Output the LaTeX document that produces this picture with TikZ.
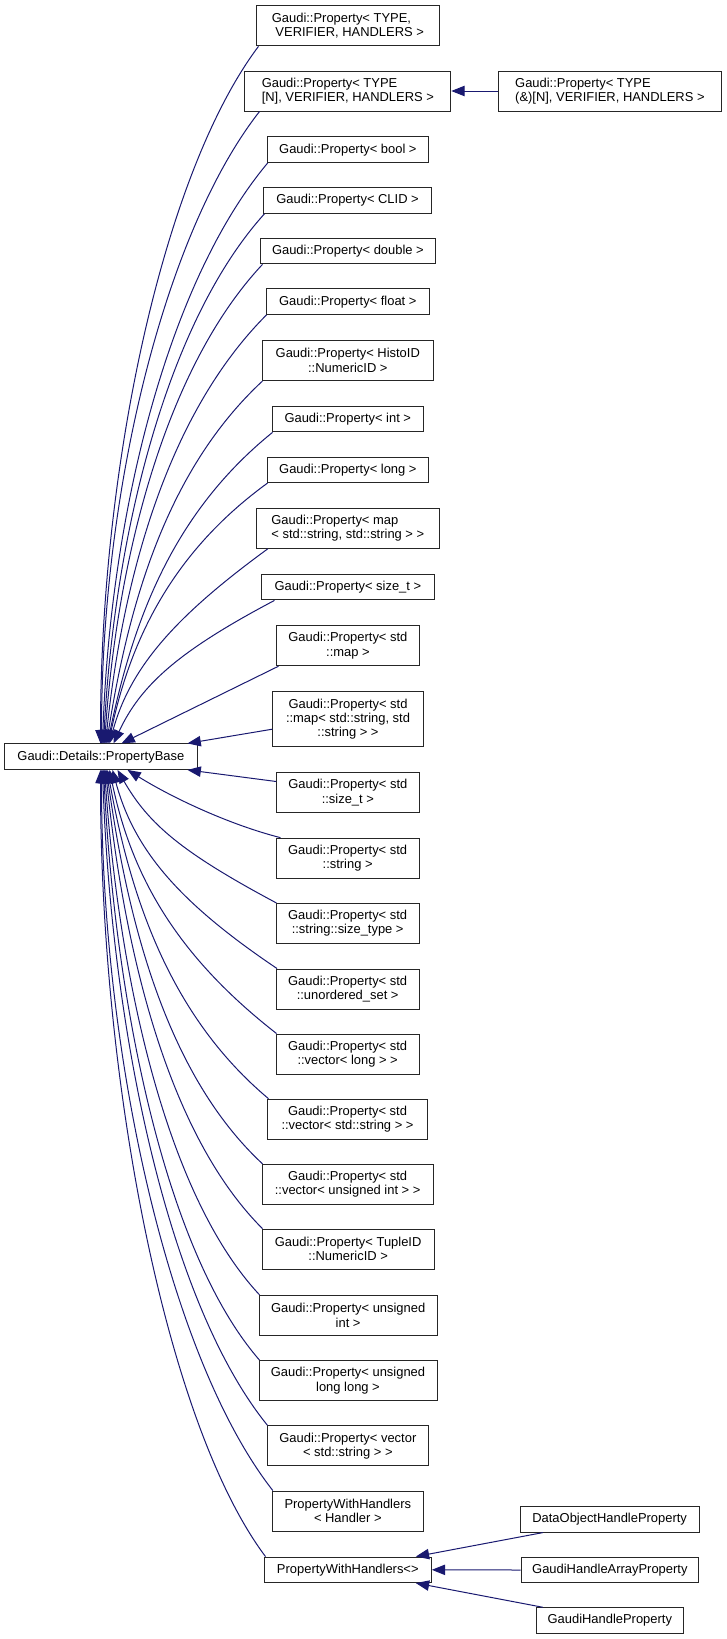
\documentclass[tikz,border=0pt]{standalone}
\usepackage{fontspec}
\setmainfont{Liberation Sans}
\usetikzlibrary{arrows.meta,calc}
\definecolor{edgeblue}{RGB}{25,25,112}
\begin{document}
\begin{tikzpicture}[x=0.75pt,y=0.75pt,
  box/.style={draw=black!85, line width=0.75pt, fill=white, inner sep=0pt,
    font=\fontsize{9.7pt}{10.7pt}\selectfont, align=center},
  bw/.style={minimum width=#1*0.75pt},
  bh/.style={minimum height=#1*0.75pt},
  inh/.style={draw=edgeblue, line width=0.75pt, -{Triangle[length=10pt,width=7.8pt]}}]
\useasboundingbox (0,0) rectangle (727,-1639);

% upper column
\node[box,bw=182.6,bh=40,align=left] (n1) at (347.9,-25.85) {Gaudi::Property< TYPE,\\\hspace*{2.7pt}VERIFIER, HANDLERS >};
\node[box,bw=205.9,bh=40,align=left] (n2) at (347.85,-91) {Gaudi::Property< TYPE\\{}[N], VERIFIER, HANDLERS >};
\node[box,bw=222.6,bh=40,align=left] (n2b) at (609.9,-91) {Gaudi::Property< TYPE\\{}(\&)[N], VERIFIER, HANDLERS >};
\node[box,bw=161.4,bh=25.5] (bool) at (347.9,-149.7) {Gaudi::Property< bool >};
\node[box,bw=168.4,bh=25.5] (clid) at (347.6,-200.5) {Gaudi::Property< CLID >};
\node[box,bw=174.8,bh=25.5] (dbl) at (347.9,-251.15) {Gaudi::Property< double >};
\node[box,bw=163,bh=25.5] (flt) at (347.8,-301.65) {Gaudi::Property< float >};
\node[box,bw=171,bh=40] (histo) at (347.8,-360.5) {Gaudi::Property< HistoID\\::NumericID >};
\node[box,bw=151,bh=25.5] (int) at (347.8,-419.15) {Gaudi::Property< int >};
\node[box,bw=161.7,bh=25.5] (long) at (347.85,-469.85) {Gaudi::Property< long >};
\node[box,bw=183,bh=40,align=left] (map) at (347.8,-528.3) {Gaudi::Property< map\\< std::string, std::string > >};
\node[box,bw=172.3,bh=25.5] (sizet) at (347.85,-587.15) {Gaudi::Property< size\_t >};
\node[box,bw=142.8,bh=40] (stdmap) at (347.9,-645.7) {Gaudi::Property< std\\::map >};
\node[box,bw=150.6,bh=55] (stdmapb) at (348,-719.2) {Gaudi::Property< std\\::map< std::string, std\\::string > >};

% base
\node[box,bw=192.3,bh=25.5] (base) at (100.85,-756.65) {Gaudi::Details::PropertyBase};

% lower column
\node[box,bw=142.3,bh=40] (stdsize) at (347.85,-792.5) {Gaudi::Property< std\\::size\_t >};
\node[box,bw=143.3,bh=40] (stdstring) at (347.65,-858.15) {Gaudi::Property< std\\::string >};
\node[box,bw=143.3,bh=40] (sizetype) at (347.65,-923.5) {Gaudi::Property< std\\::string::size\_type >};
\node[box,bw=143.3,bh=40] (uset) at (347.65,-989) {Gaudi::Property< std\\::unordered\_set >};
\node[box,bw=143.3,bh=40] (veclong) at (347.65,-1054) {Gaudi::Property< std\\::vector< long > >};
\node[box,bw=160.4,bh=40] (vecstr) at (347.5,-1119.15) {Gaudi::Property< std\\::vector< std::string > >};
\node[box,bw=171.3,bh=40] (vecuint) at (347.65,-1184.3) {Gaudi::Property< std\\::vector< unsigned int > >};
\node[box,bw=171.7,bh=40] (tuple) at (348.15,-1249.15) {Gaudi::Property< TupleID\\::NumericID >};
\node[box,bw=178.3,bh=40] (uint) at (348.15,-1315.3) {Gaudi::Property< unsigned\\int >};
\node[box,bw=178,bh=40] (ull) at (348,-1380.6) {Gaudi::Property< unsigned\\long long >};
\node[box,bw=161.7,bh=40] (vector) at (347.85,-1445.85) {Gaudi::Property< vector\\< std::string > >};
\node[box,bw=151,bh=40] (pwhh) at (347.8,-1511) {PropertyWithHandlers\\< Handler >};
\node[box,bw=167,bh=25.5] (pwh) at (347.8,-1569.8) {PropertyWithHandlers<>};

% right column bottom
\node[box,bw=178.7,bh=25.5] (dohp) at (609.65,-1519.35) {DataObjectHandleProperty};
\node[box,bw=177.7,bh=25.5] (ghap) at (609.85,-1570) {GaudiHandleArrayProperty};
\node[box,bw=147,bh=25.5] (ghp) at (609.8,-1620.5) {GaudiHandleProperty};

% edges from upper children to base
\draw[inh] ($(n1.south west)+(2.4,0)$) .. controls +(-94.8,-126) and +(0,279) .. ($(base.north west)+(96.3,0)$);
\draw[inh] ($(n2.south west)+(15.1,0)$) .. controls +(-94.8,-121) and +(0,253) .. ($(base.north west)+(97.3,0)$);
\draw[inh] ($(bool.south west)+(1,0)$) .. controls +(-99,-118) and +(8,232) .. ($(base.north west)+(98.3,0)$);
\draw[inh] ($(clid.south west)+(1.6,0)$) .. controls +(-96.6,-107) and +(11,212) .. ($(base.north west)+(99.3,0)$);
\draw[inh] ($(dbl.south west)+(2.5,0)$) .. controls +(-94.8,-101) and +(13.4,192) .. ($(base.north west)+(100.3,0)$);
\draw[inh] ($(flt.south west)+(0.7,0)$) .. controls +(-96.6,-96.6) and +(18,172) .. ($(base.north west)+(101.3,0)$);
\draw[inh] ($(histo.south west)+(0.7,0)$) .. controls +(-93.6,-87) and +(23,145) .. ($(base.north west)+(102.3,0)$);
\draw[inh] ($(int.south west)+(0.7,0)$) .. controls +(-99,-80) and +(26,125) .. ($(base.north west)+(103.3,0)$);
\draw[inh] ($(long.south west)+(1,0)$) .. controls +(-95,-69) and +(22,104) .. ($(base.north west)+(104.3,0)$);
\draw[inh] ($(map.south west)+(12,0)$) .. controls +(-89,-65) and +(21,78) .. ($(base.north west)+(105.3,0)$);
\draw[inh] ($(sizet.south west)+(13.3,0)$) .. controls +(-96.6,-51) and +(27,58) .. ($(base.north west)+(109.3,0)$);
\draw[inh] ($(stdmap.south west)+(2.5,0)$) -- ($(base.north west)+(117.3,0)$);
\draw[inh] ($(stdmapb.west)+(0,-10)$) -- ($(base.north east)+(-10,0)$);

% edges from lower children to base
\draw[inh] ($(stdsize.west)+(0,11)$) -- ($(base.south east)+(-10,0)$);
\draw[inh] ($(stdstring.north west)+(5,0)$) .. controls +(-51,13) and +(45,-28) .. ($(base.south west)+(123.3,0)$);
\draw[inh] ($(sizetype.north west)+(1,0)$) .. controls +(-95,50.7) and +(31,-54) .. ($(base.south west)+(113.3,0)$);
\draw[inh] ($(uset.north west)+(1.5,0)$) .. controls +(-98,66) and +(21.6,-80) .. ($(base.south west)+(108.3,0)$);
\draw[inh] ($(veclong.north west)+(1,0)$) .. controls +(-100,78) and +(22,-106) .. ($(base.south west)+(105.3,0)$);
\draw[inh] ($(vecstr.north west)+(1.7,0)$) .. controls +(-96.6,81) and +(23.8,-132) .. ($(base.south west)+(103.3,0)$);
\draw[inh] ($(vecuint.north west)+(1,0)$) .. controls +(-93.6,87) and +(22,-158) .. ($(base.south west)+(102.3,0)$);
\draw[inh] ($(tuple.north west)+(0.7,0)$) .. controls +(-94,94) and +(19,-184) .. ($(base.south west)+(101.3,0)$);
\draw[inh] ($(uint.north west)+(1,0)$) .. controls +(-93,99.5) and +(14.7,-210) .. ($(base.south west)+(100.3,0)$);
\draw[inh] ($(ull.north west)+(1,0)$) .. controls +(-93.6,107.6) and +(11.8,-236) .. ($(base.south west)+(99.3,0)$);
\draw[inh] ($(vector.north west)+(1,0)$) .. controls +(-99,122) and +(9,-263) .. ($(base.south west)+(98.3,0)$);
\draw[inh] ($(pwhh.north west)+(1,0)$) .. controls +(-102.6,131) and +(0,-289) .. ($(base.south west)+(97.3,0)$);
\draw[inh] ($(pwh.north west)+(1.7,0)$) .. controls +(-99,132) and +(0,-315) .. ($(base.south west)+(96.3,0)$);

% other edges
\draw[inh] (n2b.west) -- (n2.east);
\draw[inh] ($(dohp.south west)+(23,0)$) -- ($(pwh.north east)+(-16,0)$);
\draw[inh] (ghap.west) -- (pwh.east);
\draw[inh] ($(ghp.north west)+(7,0)$) -- ($(pwh.south east)+(-16,0)$);
\end{tikzpicture}
\end{document}
